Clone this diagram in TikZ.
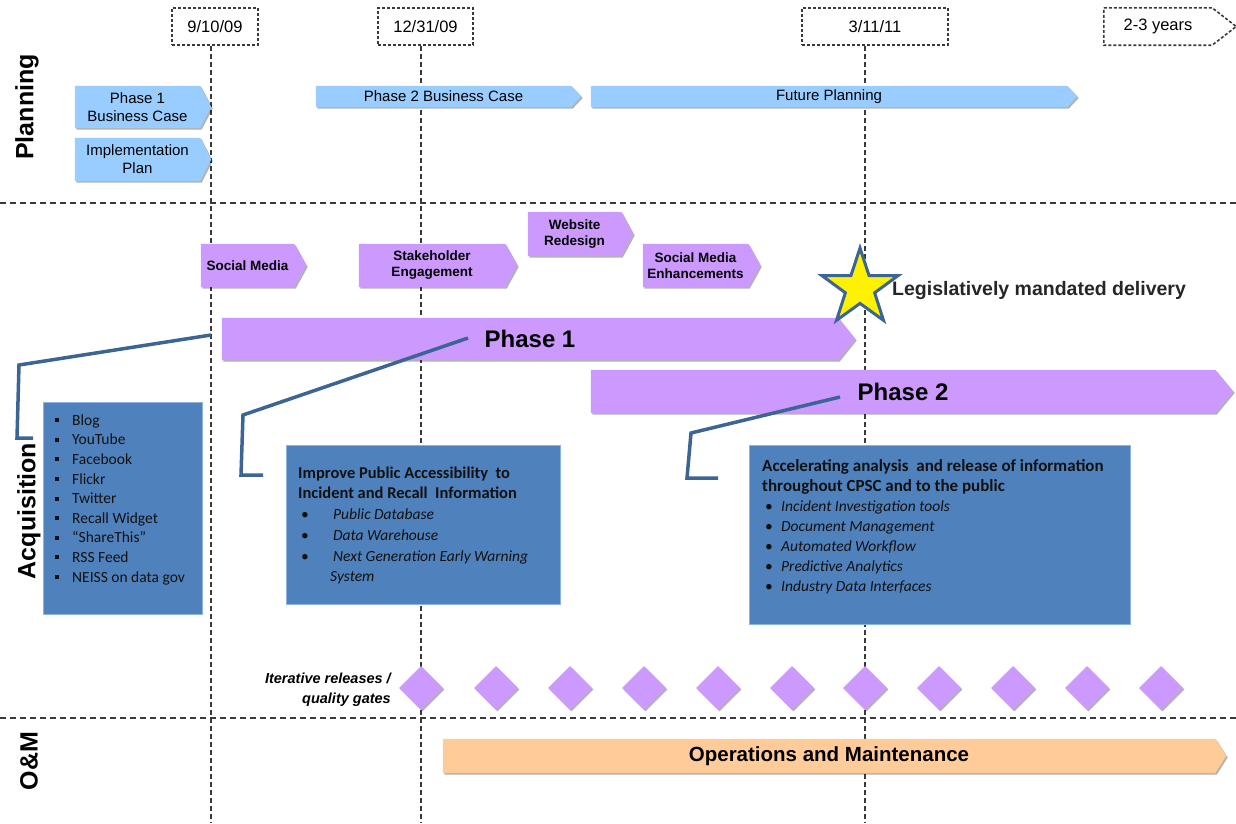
\documentclass[tikz,border=0pt]{standalone}
\usepackage{fontspec}
\setmainfont{Liberation Sans}
\newfontfamily\calfont{Carlito}
\usetikzlibrary{positioning,calc,backgrounds,shapes.geometric,shadows}
\definecolor{PlanBlue}{HTML}{99CCFF}
\definecolor{Lilac}{HTML}{CC99FF}
\definecolor{Peach}{HTML}{FFCC99}
\definecolor{BoxBlue}{HTML}{4F81BD}
\definecolor{BoxEdge}{HTML}{8DB3E2}
\definecolor{Steel}{HTML}{3C6494}
\definecolor{GridGray}{HTML}{3A3A3A}
\definecolor{Ink}{HTML}{111111}
\newcommand\sqbullet{\rule[3pt]{4pt}{4pt}}
\tikzset{
  barnode/.style={rectangle, inner sep=0pt, align=center, text=black},
  planbar/.style={barnode, font=\fontsize{15}{18}\selectfont},
  acqbar/.style={barnode, font=\bfseries\fontsize{13.5}{16}\selectfont},
  phasebar/.style={barnode, font=\bfseries\fontsize{24}{28}\selectfont},
  barshadow/.style={drop shadow={shadow xshift=1.5pt, shadow yshift=-1.5pt, fill=black, opacity=0.3}},
  datebox/.style={rectangle, draw=GridGray, densely dashed, line width=1.6pt, fill=white, inner sep=0pt, minimum height=37pt, font=\fontsize{16.5}{18}\selectfont},
  vline/.style={draw=GridGray, line width=2.4pt, dash pattern=on 5pt off 3pt},
  hline/.style={draw=GridGray, line width=2.6pt, dash pattern=on 6pt off 4pt},
  lane/.style={rotate=90, inner sep=0pt, font=\bfseries\fontsize{25}{25}\selectfont},
  infobox/.style={rectangle, fill=BoxBlue, draw=BoxEdge, line width=0.8pt, inner sep=0pt},
  infotext/.style={inner sep=0pt, anchor=north west, text=Ink, font=\calfont\fontsize{15.5}{19.6}\selectfont},
  calloutline/.style={draw=Steel, line width=3.5pt, line join=miter},
  gate/.style={diamond, fill=Lilac, minimum size=44pt, inner sep=0pt, barshadow}
}
\begin{document}
\begin{tikzpicture}[x=1pt, y=-1pt]
\useasboundingbox (0,0) rectangle (1236,823);
% milestone dates
\node[datebox, minimum width=86pt] (d1) at (215,26.5) {9/10/09};
\node[datebox, minimum width=95pt] (d2) at (425.5,26.5) {12/31/09};
\node[datebox, minimum width=146pt] (d3) at (875,26.5) {3/11/11};
\node[barnode, font=\fontsize{16.5}{18}\selectfont, minimum width=108pt, minimum height=37pt] (d4) at (1158,26.5) {2-3 years};
\draw[densely dashed, draw=GridGray, line width=1.6pt] (d4.north west) -- (d4.north east) -- ([xshift=24pt]d4.east) -- (d4.south east) -- (d4.south west) -- cycle;
\coordinate (v1) at (211,823);
\coordinate (v2) at (421,823);
\coordinate (v3) at (865,823);
\coordinate (h1w) at (0,203);
\coordinate (h1e) at (1236,203);
\coordinate (h2w) at (0,718);
\coordinate (h2e) at (1236,718);
% swim lanes
\node[lane] (lplan) at (27,107) {Planning};
\node[lane] (lacq) at (29,511) {Acquisition};
\node[lane] (lom) at (29,761) {O\&M};
% planning bars
\node[planbar, minimum width=125pt, minimum height=42pt] (p1bc) at (137.5,107) {Phase 1\\Business Case};
\node[planbar, minimum width=125pt, minimum height=43pt] (impl) at (137.5,159.5) {Implementation\\Plan};
\node[planbar, minimum width=255pt, minimum height=21pt] (p2bc) at (443.5,96.5) {Phase 2 Business Case};
\node[planbar, minimum width=476pt, minimum height=21pt] (future) at (829,96.5) {Future Planning};
% acquisition bars
\node[acqbar, minimum width=93pt, minimum height=43pt] (social) at (247.5,265.5) {Social Media};
\node[acqbar, minimum width=146pt, minimum height=43pt] (stake) at (432,265.5) {Stakeholder\\Engagement};
\node[acqbar, minimum width=93pt, minimum height=44pt] (web) at (574.5,234) {Website\\Redesign};
\node[acqbar, minimum width=105pt, minimum height=43pt] (enhance) at (695.5,265.5) {Social Media\\Enhancements};
\node[phasebar, minimum width=616pt, minimum height=42pt] (phaseone) at (530,339) {Phase 1};
\node[phasebar, minimum width=624pt, minimum height=43pt] (phasetwo) at (903,391.5) {Phase 2};
\node[barnode, font=\bfseries\fontsize{20.5}{24}\selectfont, minimum width=772pt, minimum height=34pt] (om) at (829,756) {Operations and Maintenance};
\begin{scope}[on background layer]
\draw[vline] (d1.south -| v1) -- (v1);
\draw[vline] (d2.south -| v2) -- (v2);
\draw[vline] (d3.south -| v3) -- (v3);
\draw[hline] (h1w) -- (h1e);
\draw[hline] (h2w) -- (h2e);
\foreach \nm/\col/\tip in {p1bc/PlanBlue/11pt, impl/PlanBlue/11pt, p2bc/PlanBlue/10pt, future/PlanBlue/10pt,
    social/Lilac/12pt, stake/Lilac/12pt, web/Lilac/12pt, enhance/Lilac/12pt,
    phaseone/Lilac/17pt, phasetwo/Lilac/18pt, om/Peach/11pt}
  \fill[\col, barshadow] (\nm.north west) -- (\nm.north east) -- ([xshift=\tip]\nm.east) -- (\nm.south east) -- (\nm.south west) -- cycle;
\end{scope}
% mandated delivery
\node[star, star points=5, star point ratio=2.6, minimum size=80pt, inner sep=0pt, fill=yellow, draw=Steel, line width=3pt] (star) at (860,288) {};
\node[anchor=west, inner sep=0pt, text=black!85, font=\bfseries\fontsize{19.5}{21}\selectfont] (mandate) at (892,290) {Legislatively mandated delivery};
% detail boxes
\node[infobox, minimum width=159pt, minimum height=212pt] (tools) at (122.5,508) {};
\node[infotext] (toolslist) at (55,411.3) {\begin{tabular}{@{}l@{\hspace{13pt}}l@{}}
\sqbullet & Blog\\ \sqbullet & YouTube\\ \sqbullet & Facebook\\ \sqbullet & Flickr\\ \sqbullet & Twitter\\
\sqbullet & Recall Widget\\ \sqbullet & “ShareThis”\\ \sqbullet & RSS Feed\\ \sqbullet & NEISS on data gov
\end{tabular}};
\node[infobox, minimum width=274pt, minimum height=159pt] (access) at (423,524.5) {};
\node[infotext, font=\calfont\fontsize{15.5}{20.7}\selectfont] (accesslist) at (298,463.5) {\begin{tabular}{@{}l@{}l@{}}
\multicolumn{2}{@{}l@{}}{\bfseries\fontsize{16.5}{20}\selectfont Improve Public Accessibility \ to}\\
\multicolumn{2}{@{}l@{}}{\bfseries\fontsize{16.5}{20}\selectfont Incident and Recall \ Information}\\
\makebox[35pt][l]{\hspace{3pt}\textbullet} & \itshape Public Database\\
\makebox[35pt][l]{\hspace{3pt}\textbullet} & \itshape Data Warehouse\\
\makebox[35pt][l]{\hspace{3pt}\textbullet} & \itshape Next Generation Early Warning\\
 & \itshape\hspace{-3pt}System
\end{tabular}};
\node[infobox, minimum width=381pt, minimum height=179pt] (accel) at (939.5,534.5) {};
\node[infotext, font=\calfont\fontsize{15.5}{20}\selectfont] (accellist) at (762,457) {\begin{tabular}{@{}l@{}l@{}}
\multicolumn{2}{@{}l@{}}{\bfseries\fontsize{17}{20}\selectfont Accelerating analysis \ and release of information}\\
\multicolumn{2}{@{}l@{}}{\bfseries\fontsize{17}{20}\selectfont throughout CPSC and to the public}\\
\makebox[19pt][l]{\hspace{3pt}\textbullet} & \itshape Incident Investigation tools\\
\makebox[19pt][l]{\hspace{3pt}\textbullet} & \itshape Document Management\\
\makebox[19pt][l]{\hspace{3pt}\textbullet} & \itshape Automated Workflow\\
\makebox[19pt][l]{\hspace{3pt}\textbullet} & \itshape Predictive Analytics\\
\makebox[19pt][l]{\hspace{3pt}\textbullet} & \itshape Industry Data Interfaces
\end{tabular}};
% callouts
\coordinate (k1a) at (211,335);
\coordinate (k1b) at (19,365);
\coordinate (k1c) at (17,438);
\coordinate (k1d) at (33,438);
\coordinate (k2a) at (468,338);
\coordinate (k2b) at (243,415);
\coordinate (k2c) at (241,475);
\coordinate (k2d) at (263,475);
\coordinate (k3a) at (840,397);
\coordinate (k3b) at (691,433);
\coordinate (k3c) at (687,478);
\coordinate (k3d) at (718,478);
\draw[calloutline] (k1a) -- (k1b) -- (k1c) -- (k1d);
\draw[calloutline] (k2a) -- (k2b) -- (k2c) -- (k2d);
\draw[calloutline] (k3a) -- (k3b) -- (k3c) -- (k3d);
% quality gates
\node[anchor=east, align=right, inner sep=0pt, font=\bfseries\itshape\fontsize{14.5}{20}\selectfont] (gatelabel) at (391,690) {Iterative releases /\\quality gates};
\foreach \x [count=\i] in {421,496,570,644,718,792,865,939,1013,1087,1161}
  \node[gate] (g\i) at (\x,688) {};
\end{tikzpicture}
\end{document}
